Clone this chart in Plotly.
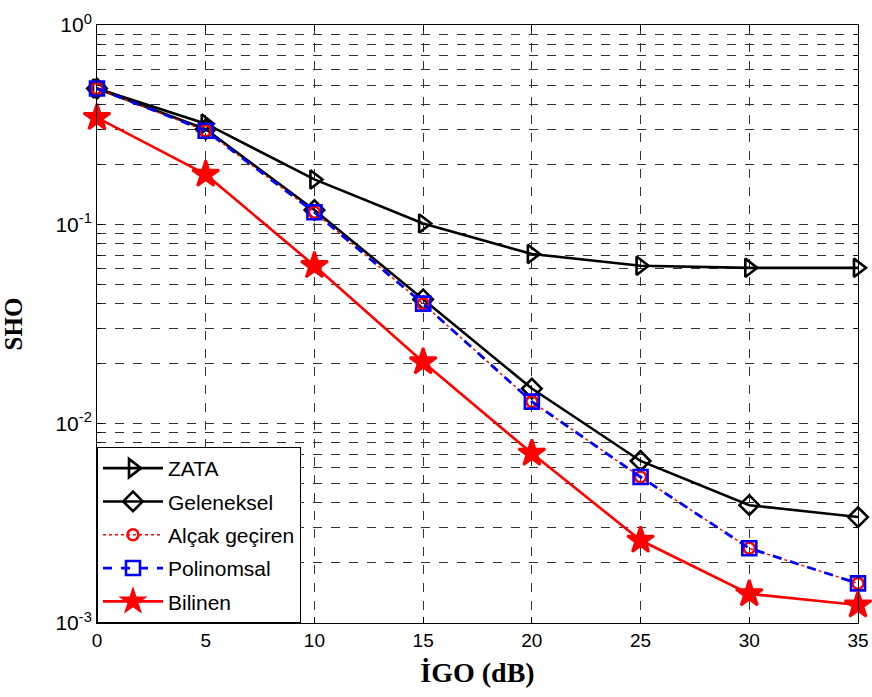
import plotly.graph_objects as go

igo = [0, 5, 10, 15, 20, 25, 30, 35]
zata = [0.48, 0.32, 0.168, 0.101, 0.071, 0.062, 0.0605, 0.0605]
geleneksel = [0.48, 0.30, 0.118, 0.042, 0.0150, 0.0065, 0.0039, 0.0034]
alcak = [0.48, 0.295, 0.115, 0.040, 0.0129, 0.0054, 0.00237, 0.00158]
polinomsal = [0.48, 0.295, 0.115, 0.040, 0.0129, 0.0054, 0.00237, 0.00158]
bilinen = [0.343, 0.178, 0.062, 0.0204, 0.0071, 0.0026, 0.0014, 0.00123]

major_vals = [1e-3, 1e-2, 1e-1, 1]
major_text = ["10<sup>-3</sup>", "10<sup>-2</sup>", "10<sup>-1</sup>", "10<sup>0</sup>"]

fig = go.Figure()
series = [
    ("ZATA", zata, "black", "solid", "triangle-right-open", 16, 2.6),
    ("Geleneksel", geleneksel, "black", "solid", "diamond-open", 15, 2.6),
    ("Alçak geçiren", alcak, "red", "dot", "circle-open", 11, 1.4),
    ("Polinomsal", polinomsal, "blue", "dash", "square-open", 14, 2.8),
    ("Bilinen", bilinen, "red", "solid", "star", 20, 2.6),
]
for i, (name, ys, col, dash, sym, sz, lw) in enumerate(series):
    fig.add_trace(go.Scatter(
        x=igo, y=ys, name=name, mode="lines+markers",
        line=dict(color=col, width=lw, dash=dash),
        marker=dict(symbol=sym, size=sz, color=col, line=dict(color=col, width=2.6)),
        legendgroup=f"g{i}",
        cliponaxis=False,
    ))

minor_vals = []
for e in [-3, -2, -1]:
    for m in range(2, 10):
        minor_vals.append(m * 10 ** e)

fig.update_layout(
    width=872, height=697,
    paper_bgcolor="white", plot_bgcolor="white",
    margin=dict(l=97, r=14, t=25, b=74),
    font=dict(family="Liberation Sans, Arial", size=17, color="black"),
    legend=dict(
        x=0, y=0, xanchor="left", yanchor="bottom",
        bgcolor="white", bordercolor="black", borderwidth=1,
        font=dict(family="Liberation Sans, Arial", size=21),
        tracegroupgap=3, itemwidth=60,
    ),
    showlegend=True,
)
fig.update_xaxes(
    range=[0, 35], tickvals=[0, 5, 10, 15, 20, 25, 30, 35],
    showline=True, linecolor="black", linewidth=1, mirror="allticks",
    ticks="inside", ticklen=6, tickcolor="black",
    showgrid=True, gridcolor="#333333", griddash="dash", gridwidth=1,
    zeroline=False, automargin=False,
    tickfont=dict(family="Liberation Sans, Arial", size=19),
    title=dict(text="<b>İGO (dB)</b>", font=dict(family="Liberation Serif, Times New Roman", size=28, color="black"), standoff=12),
)
fig.update_yaxes(
    type="log", range=[-3, 0],
    tickvals=major_vals, ticktext=major_text,
    showline=True, linecolor="black", linewidth=1, mirror="allticks",
    ticks="inside", ticklen=6, tickcolor="black",
    showgrid=True, gridcolor="#333333", griddash="dash", gridwidth=1,
    zeroline=False, automargin=False,
    minor=dict(tickvals=minor_vals, ticks="inside", ticklen=4, tickcolor="black",
               showgrid=True, gridcolor="#333333", griddash="dash", gridwidth=1),
    tickfont=dict(family="Liberation Sans, Arial", size=21),
    title=dict(text="<b>SHO</b>", font=dict(family="Liberation Serif, Times New Roman", size=25, color="black"), standoff=30),
)
fig.write_html("out.html", config={"displayModeBar": False},
               post_script="document.body.style.margin='0';document.body.style.padding='0';")
